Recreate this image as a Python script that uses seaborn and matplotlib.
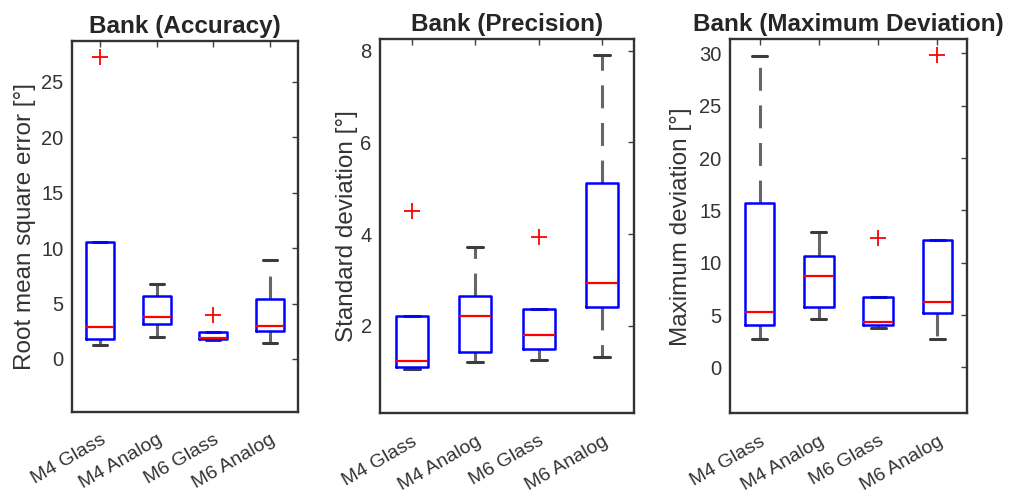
import numpy as np
import pandas as pd
import matplotlib
matplotlib.use("Agg")
import matplotlib.pyplot as plt
import matplotlib.transforms as mtransforms
import seaborn as sns

# ---- data ----
groups = ["M4 Glass", "M4 Analog", "M6 Glass", "M6 Analog"]

# Bank (Accuracy): root mean square error [deg]
acc_lw = [1.25, 2.0, 1.7, 1.4]
acc_q1 = [1.8, 3.2, 1.8, 2.5]
acc_med = [2.9, 3.8, 1.85, 3.0]
acc_q3 = [10.6, 5.7, 2.4, 5.4]
acc_uw = [10.6, 6.8, 2.4, 8.9]
acc_out = [[27.3], [], [4.0], []]

# Bank (Precision): standard deviation [deg]
pre_lw = [1.05, 1.2, 1.25, 1.31]
pre_q1 = [1.09, 1.43, 1.49, 2.4]
pre_med = [1.23, 2.21, 1.8, 2.93]
pre_q3 = [2.21, 2.65, 2.36, 5.11]
pre_uw = [2.21, 3.72, 2.36, 7.91]
pre_out = [[4.5], [], [3.94], []]

# Bank (Maximum Deviation): maximum deviation [deg]
mdv_lw = [2.67, 4.6, 3.8, 2.67]
mdv_q1 = [4.04, 5.8, 4.04, 5.15]
mdv_med = [5.3, 8.7, 4.36, 6.27]
mdv_q3 = [15.7, 10.6, 6.7, 12.2]
mdv_uw = [29.7, 12.95, 6.7, 12.2]
mdv_out = [[], [], [12.4], [29.8]]

titles = ["Bank (Accuracy)", "Bank (Precision)", "Bank (Maximum Deviation)"]
ylabels = ["Root mean square error [°]", "Standard deviation [°]", "Maximum deviation [°]"]
yticks = [[0, 5, 10, 15, 20, 25], [2, 4, 6, 8], [0, 5, 10, 15, 20, 25, 30]]
ylims = [(-4.76, 28.7), (0.09, 8.25), (-4.39, 31.34)]


def samples(lw, q1, med, q3, uw, out):
    """Build a small sample whose quartiles/whiskers equal the read summary."""
    rows = []
    for g, a, b, c, d, e, o in zip(groups, lw, q1, med, q3, uw, out):
        if o:
            vals = [a, b, b, c, c, c, d, e] + list(o)
        else:
            vals = [a, b, c, d, e]
        rows += [(g, v) for v in vals]
    return pd.DataFrame(rows, columns=["group", "value"])


frames = [
    samples(acc_lw, acc_q1, acc_med, acc_q3, acc_uw, acc_out),
    samples(pre_lw, pre_q1, pre_med, pre_q3, pre_uw, pre_out),
    samples(mdv_lw, mdv_q1, mdv_med, mdv_q3, mdv_uw, mdv_out),
]

sns.set_style("white")
plt.rcParams["font.family"] = ["Liberation Sans", "DejaVu Sans"]

W, H = 1011, 497
fig = plt.figure(figsize=(W / 100, H / 100), dpi=100)
boxes_px = [(72, 41, 298, 411.7), (380, 39.3, 634, 413.3), (730, 39.3, 967, 413.3)]
labelpads = [4, 2, 5]

txt = "#333333"
shift = mtransforms.ScaledTranslation(3 / 100, 0, fig.dpi_scale_trans)
for i, (df, (l, t, r, b)) in enumerate(zip(frames, boxes_px)):
    ax = fig.add_axes([l / W, 1 - b / H, (r - l) / W, (b - t) / H])
    sns.boxplot(
        data=df, x="group", y="value", order=groups, ax=ax,
        width=0.5, fill=False, color="blue", linewidth=1.6, whis=1.5,
        boxprops=dict(color="#0000ff", linewidth=1.8, zorder=3),
        medianprops=dict(color="red", linewidth=1.6, zorder=3.5),
        whiskerprops=dict(color="#666666", linewidth=2.2, linestyle=(0, (7.5, 4.8)),
                          zorder=2),
        capprops=dict(color="#3c3c3c", linewidth=2.2, zorder=2.2),
        flierprops=dict(marker="+", markeredgecolor="red", markerfacecolor="red",
                        markersize=12, markeredgewidth=1.3, linestyle="none"),
    )
    ax.set_ylim(*ylims[i])
    ax.set_xlim(-0.5, 3.5)
    ax.set_yticks(yticks[i])
    ax.set_xticks(range(len(groups)))
    ax.set_xticklabels(groups, rotation=30, ha="right", va="top",
                       rotation_mode="anchor", fontsize=14, color=txt)
    for lab in ax.get_xticklabels():
        lab.set_transform(lab.get_transform() + shift)
    for lab in ax.get_yticklabels():
        lab.set_fontsize(14.5)
        lab.set_color(txt)
    ax.set_xlabel("")
    ax.set_ylabel(ylabels[i], fontsize=17.5, color=txt, labelpad=labelpads[i])
    ax.set_title(titles[i], fontsize=17.5, fontweight="bold", color="#262626", pad=6)
    ax.tick_params(axis="y", direction="in", right=True, length=4, width=1,
                   colors="#404040", labelcolor=txt, pad=6)
    ax.tick_params(axis="x", direction="in", top=True, length=4, width=1,
                   colors="#404040", labelcolor=txt, pad=14)
    for s in ax.spines.values():
        s.set_visible(True)
        s.set_color("#333333")
        s.set_linewidth(1.7)
    ax.grid(False)

fig.savefig("out.png", dpi=100)
